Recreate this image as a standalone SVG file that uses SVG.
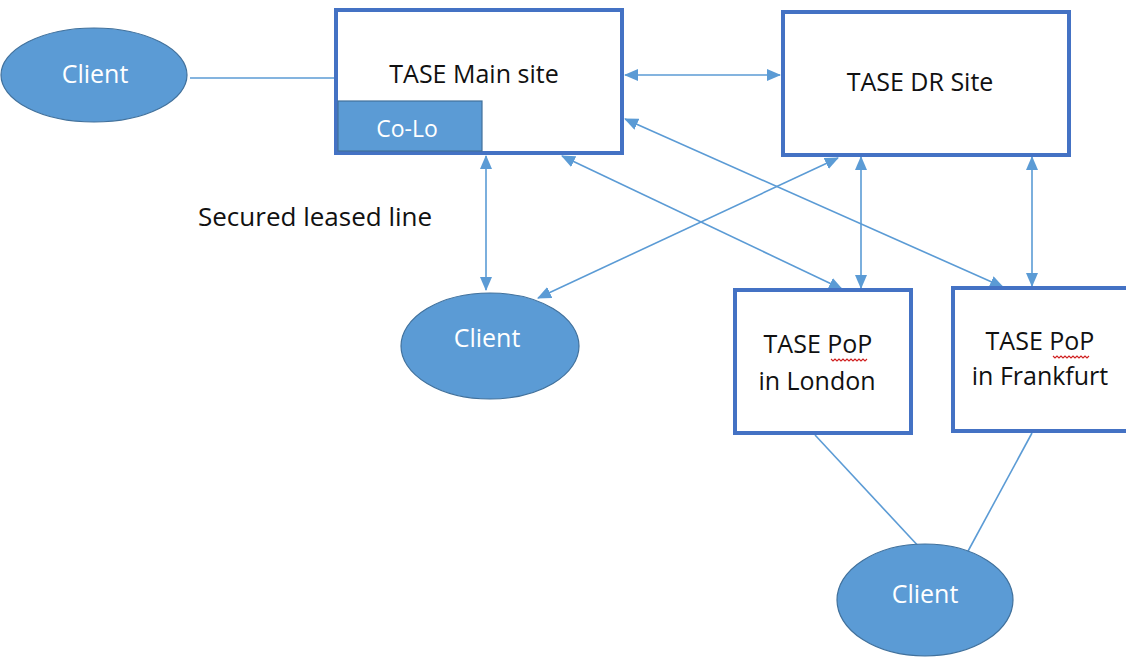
<svg xmlns="http://www.w3.org/2000/svg" width="1126" height="658" viewBox="0 0 1126 658">
<style>
.box{fill:#fff;stroke:#4472C4;stroke-width:4}
.ell{fill:#5B9BD5;stroke:#41719C;stroke-width:1.2}
.lbl{font-family:"Open Sans","Liberation Sans",sans-serif;font-size:25px;fill:#111;text-anchor:middle}
.wl{font-family:"Open Sans","Liberation Sans",sans-serif;font-size:25px;fill:#fff;text-anchor:middle}
.c{stroke:#5B9BD5;stroke-width:1.6;fill:none}
.a{marker-start:url(#ah);marker-end:url(#ah)}
.sq{stroke:#d02020;stroke-width:1.1;fill:none}
</style>
<defs>
<marker id="ah" viewBox="0 0 14 12" refX="13" refY="6" markerWidth="14" markerHeight="12" markerUnits="userSpaceOnUse" orient="auto-start-reverse">
<path d="M0,0 L14,6 L0,12 z" fill="#5B9BD5"/>
</marker>
</defs>
<rect width="1126" height="658" fill="#fff"/>
<g id="connectors">
<line class="c" x1="190" y1="78" x2="335" y2="78"/>
<line class="c a" x1="625" y1="75" x2="780" y2="75"/>
<line class="c a" x1="486" y1="156" x2="486" y2="290"/>
<line class="c a" x1="838" y1="158" x2="538" y2="298"/>
<line class="c a" x1="562" y1="156" x2="842" y2="289"/>
<line class="c a" x1="625" y1="119" x2="1003" y2="287"/>
<line class="c a" x1="861" y1="157" x2="861" y2="288"/>
<line class="c a" x1="1032" y1="157" x2="1032" y2="286"/>
<line class="c" x1="815" y1="435" x2="921" y2="549"/>
<line class="c" x1="1032" y1="433" x2="967" y2="553"/>
</g>
<g id="client1">
<ellipse class="ell" cx="94" cy="75" rx="93" ry="47"/>
<text class="wl" x="95" y="83">Client</text>
</g>
<g id="main-site">
<rect class="box" x="336" y="10" width="286" height="143"/>
<text class="lbl" x="474" y="83">TASE Main site</text>
</g>
<g id="colo">
<rect x="338" y="101" width="144" height="50" fill="#5B9BD5" stroke="#41719C" stroke-width="1.2"/>
<text class="wl" x="407" y="137" style="font-size:23px">Co-Lo</text>
</g>
<g id="dr-site">
<rect class="box" x="783" y="12" width="286" height="143"/>
<text class="lbl" x="920" y="91">TASE DR Site</text>
</g>
<g id="label-leased">
<text class="lbl" x="198" y="226" style="text-anchor:start;font-size:26px">Secured leased line</text>
</g>
<g id="client2">
<ellipse class="ell" cx="490" cy="346" rx="89" ry="53"/>
<text class="wl" x="487" y="347">Client</text>
</g>
<g id="pop-london">
<rect class="box" x="735" y="290" width="176" height="143"/>
<text class="lbl" x="818" y="353">TASE PoP</text>
<text class="lbl" x="817" y="390">in London</text>
<path class="sq" d="M831,359 l2,2 l2,-2 l2,2 l2,-2 l2,2 l2,-2 l2,2 l2,-2 l2,2 l2,-2 l2,2 l2,-2 l2,2 l2,-2 l2,2 l2,-2 l2,2 l2,-2"/>
</g>
<g id="pop-frankfurt">
<rect class="box" x="953" y="288" width="176" height="143"/>
<text class="lbl" x="1040" y="350">TASE PoP</text>
<text class="lbl" x="1040" y="385">in Frankfurt</text>
<path class="sq" d="M1053,356 l2,2 l2,-2 l2,2 l2,-2 l2,2 l2,-2 l2,2 l2,-2 l2,2 l2,-2 l2,2 l2,-2 l2,2 l2,-2 l2,2 l2,-2 l2,2 l2,-2"/>
</g>
<g id="client3">
<ellipse class="ell" cx="925" cy="600" rx="88" ry="56"/>
<text class="wl" x="925" y="603">Client</text>
</g>
</svg>
